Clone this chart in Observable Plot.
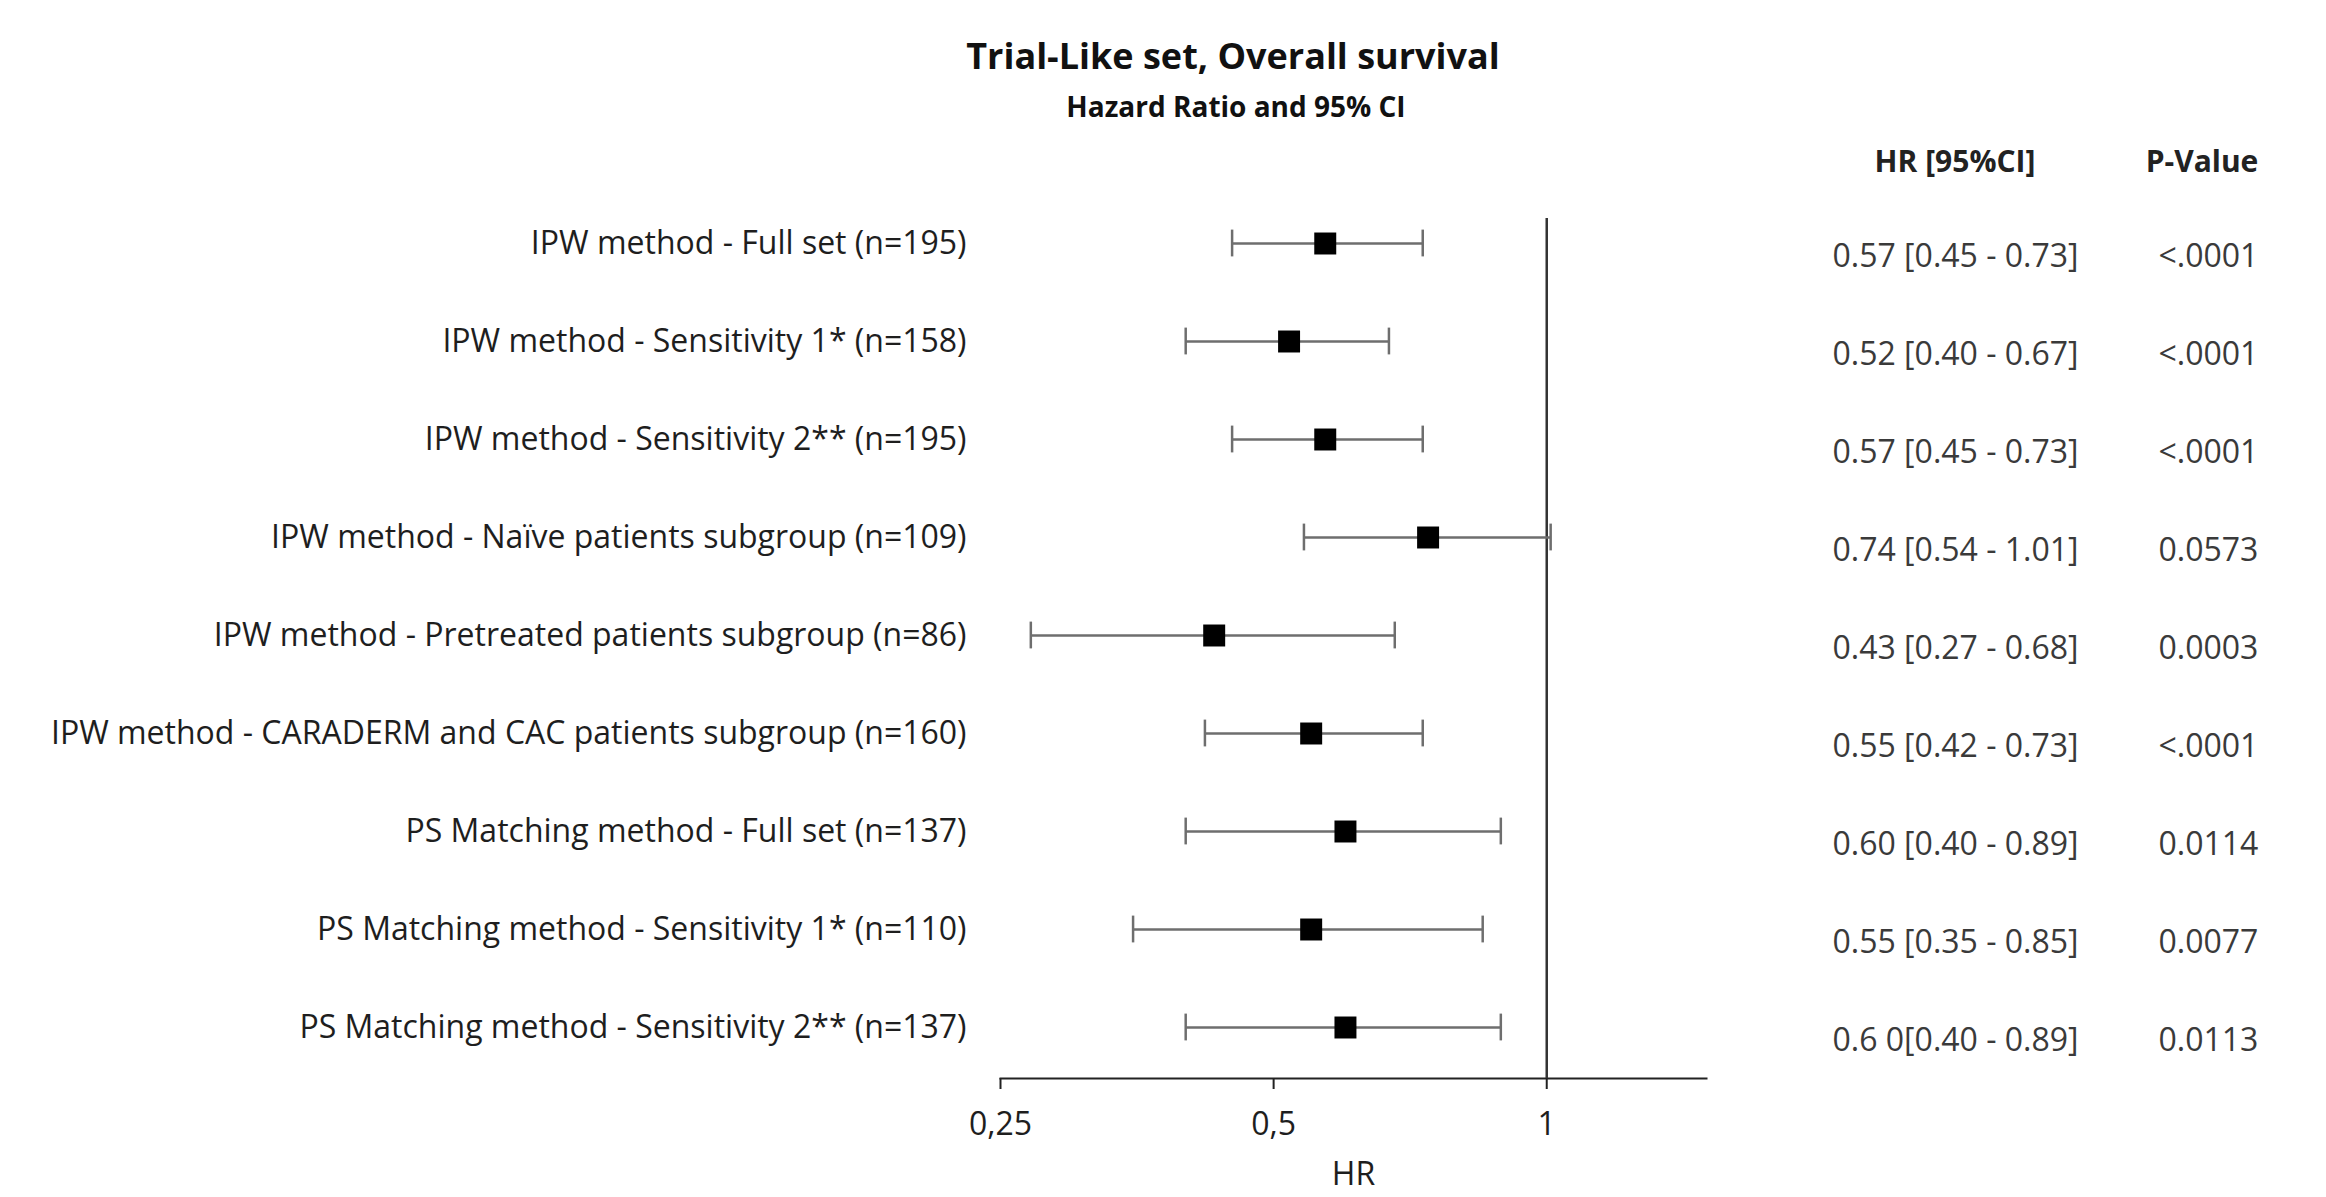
<!DOCTYPE html>
<html><head><meta charset="utf-8">
<script src="https://cdn.jsdelivr.net/npm/d3@7"></script>
<script src="https://cdn.jsdelivr.net/npm/@observablehq/plot@0.6"></script>
<style>
html,body{margin:0;padding:0;background:#fff;}
body{width:2326px;height:1197px;overflow:hidden;font-family:"Open Sans",sans-serif;}
#head{position:relative;height:180px;}
.t{position:absolute;white-space:nowrap;line-height:1;transform:translateX(-50%);color:#111;}
</style></head><body>
<div id="head">
  <div class="t" style="left:1233px;top:38px;font-size:36px;font-weight:700">Trial-Like set, Overall survival</div>
  <div class="t" style="left:1236px;top:92px;font-size:28px;font-weight:700">Hazard Ratio and 95% CI</div>
  <div class="t" style="left:1955px;top:146px;font-size:30px;font-weight:700;color:#222">HR [95%CI]</div>
  <div class="t" style="left:2202px;top:146px;font-size:30px;font-weight:700;color:#222">P-Value</div>
</div>
<div id="chart"></div>
<script>
const labels = [
  "IPW method - Full set (n=195)",
  "IPW method - Sensitivity 1* (n=158)",
  "IPW method - Sensitivity 2** (n=195)",
  "IPW method - Naïve patients subgroup (n=109)",
  "IPW method - Pretreated patients subgroup (n=86)",
  "IPW method - CARADERM and CAC patients subgroup (n=160)",
  "PS Matching method - Full set (n=137)",
  "PS Matching method - Sensitivity 1* (n=110)",
  "PS Matching method - Sensitivity 2** (n=137)"
];
const hr    = [0.57, 0.52, 0.57, 0.74, 0.43, 0.55, 0.60, 0.55, 0.60];
const lower = [0.45, 0.40, 0.45, 0.54, 0.27, 0.42, 0.40, 0.35, 0.40];
const upper = [0.73, 0.67, 0.73, 1.01, 0.68, 0.73, 0.89, 0.85, 0.89];
const hrText = [
  "0.57 [0.45 - 0.73]",
  "0.52 [0.40 - 0.67]",
  "0.57 [0.45 - 0.73]",
  "0.74 [0.54 - 1.01]",
  "0.43 [0.27 - 0.68]",
  "0.55 [0.42 - 0.73]",
  "0.60 [0.40 - 0.89]",
  "0.55 [0.35 - 0.85]",
  "0.6 0[0.40 - 0.89]"
];
const pValues = ["<.0001", "<.0001", "<.0001", "0.0573", "0.0003", "<.0001", "0.0114", "0.0077", "0.0113"];
const xTicks = [0.25, 0.5, 1];

const rows = labels.map((label, i) => ({label, hr: hr[i], lo: lower[i], hi: upper[i], ci: hrText[i], p: pValues[i]}));
const barColor = "#6e6e6e";

const chart = Plot.plot({
  width: 2326,
  height: 1017,
  marginLeft: 1000,
  marginRight: 620,
  marginTop: 38,
  marginBottom: 119,
  style: {fontFamily: '"Open Sans", sans-serif', fontSize: "32px", color: "#1e1e1e", background: "#fff"},
  x: {type: "log", domain: [0.25, 1.5]},
  y: {type: "band", domain: labels, range: [12.875, 897.125], padding: 0},
  marks: [
    Plot.frame({anchor: "bottom", stroke: "#222", strokeWidth: 2}),
    Plot.ruleX([1], {stroke: "#333", strokeWidth: 2.5}),
    Plot.ruleY(rows, {y: "label", x1: "lo", x2: "hi", stroke: barColor, strokeWidth: 2.5}),
    Plot.tickX(rows, {y: "label", x: "lo", stroke: barColor, strokeWidth: 2.5, insetTop: 35.6, insetBottom: 35.6}),
    Plot.tickX(rows, {y: "label", x: "hi", stroke: barColor, strokeWidth: 2.5, insetTop: 35.6, insetBottom: 35.6}),
    Plot.dot(rows, {y: "label", x: "hr", symbol: "square", r: 12.4, fill: "#000", stroke: null}),
    Plot.axisY({tickSize: 0, tickPadding: 34, fontSize: 32, label: null, fill: "#1e1e1e"}),
    Plot.axisX({ticks: xTicks, tickFormat: d => String(d).replace(".", ","), tickSize: 11, tickPadding: 23,
      fontSize: 32, stroke: "#222", strokeWidth: 2, label: "HR", labelAnchor: "center", labelArrow: "none", labelOffset: 106}),
    Plot.text(rows, {y: "label", text: "ci", frameAnchor: "right", dx: 126, dy: 13, textAnchor: "start", fill: "#3a3a3a", fontSize: 32}),
    Plot.text(rows, {y: "label", text: "p", frameAnchor: "right", dx: 452, dy: 13, textAnchor: "start", fill: "#3a3a3a", fontSize: 32})
  ]
});
document.getElementById("chart").appendChild(chart);
</script>
</body></html>
